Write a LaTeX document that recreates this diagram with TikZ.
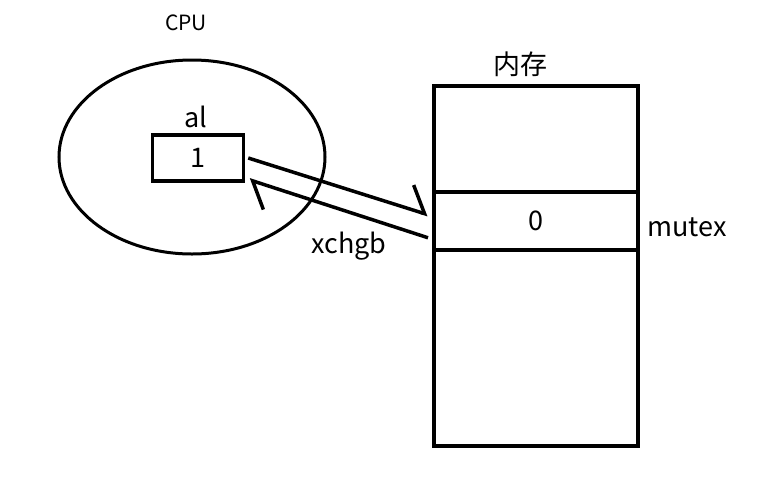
\documentclass[tikz,border=0pt]{standalone}
\usepackage{fontspec}
\setmainfont{Noto Sans CJK SC}
\usetikzlibrary{arrows.meta}

\begin{document}
\begin{tikzpicture}[x=1pt, y=-1pt, line width=3.5pt,
    cell/.style={draw, minimum width=204pt, inner sep=0pt, anchor=north west},
    lbl/.style={font=\fontsize{27}{29}\selectfont, inner sep=0pt},
    xchg/.style={-{Straight Barb[harpoon, length=19pt, width=48pt, line width=3.5pt]}}]
  \useasboundingbox (0,0) rectangle (764,480);
  % CPU side
  \draw[line width=3pt] (192,157) ellipse [x radius=133pt, y radius=97pt];
  \node[font=\fontsize{21}{23}\selectfont, inner sep=0pt] (cpu) at (186,23) {CPU};
  \node[draw, minimum width=91pt, minimum height=46pt, inner sep=0pt] (reg)
    at (198,158) {\fontsize{27}{29}\selectfont 1};
  \node[lbl] (al) at (196,117) {al};
  % memory
  \node[cell, minimum height=106pt] (top) at (432,84) {};
  \node[cell, minimum height=58pt] (mutex) at (432,190)
    {\fontsize{27}{29}\selectfont 0};
  \node[cell, minimum height=196pt] (bottom) at (432,248) {};
  \node[lbl] (mem) at (520,64) {内存};
  \node[lbl] (mutexlbl) at (687,227) {mutex};
  \node[lbl] (xchgb) at (349,246) {xchgb};
  % exchange
  \draw[xchg] ([xshift=3pt]reg.east) -- ([xshift=-4pt,yshift=6pt]mutex.west);
  \draw[xchg] ([xshift=-4pt,yshift=-17pt]mutex.west) -- ([xshift=4pt,yshift=3pt]reg.south east);
\end{tikzpicture}
\end{document}
